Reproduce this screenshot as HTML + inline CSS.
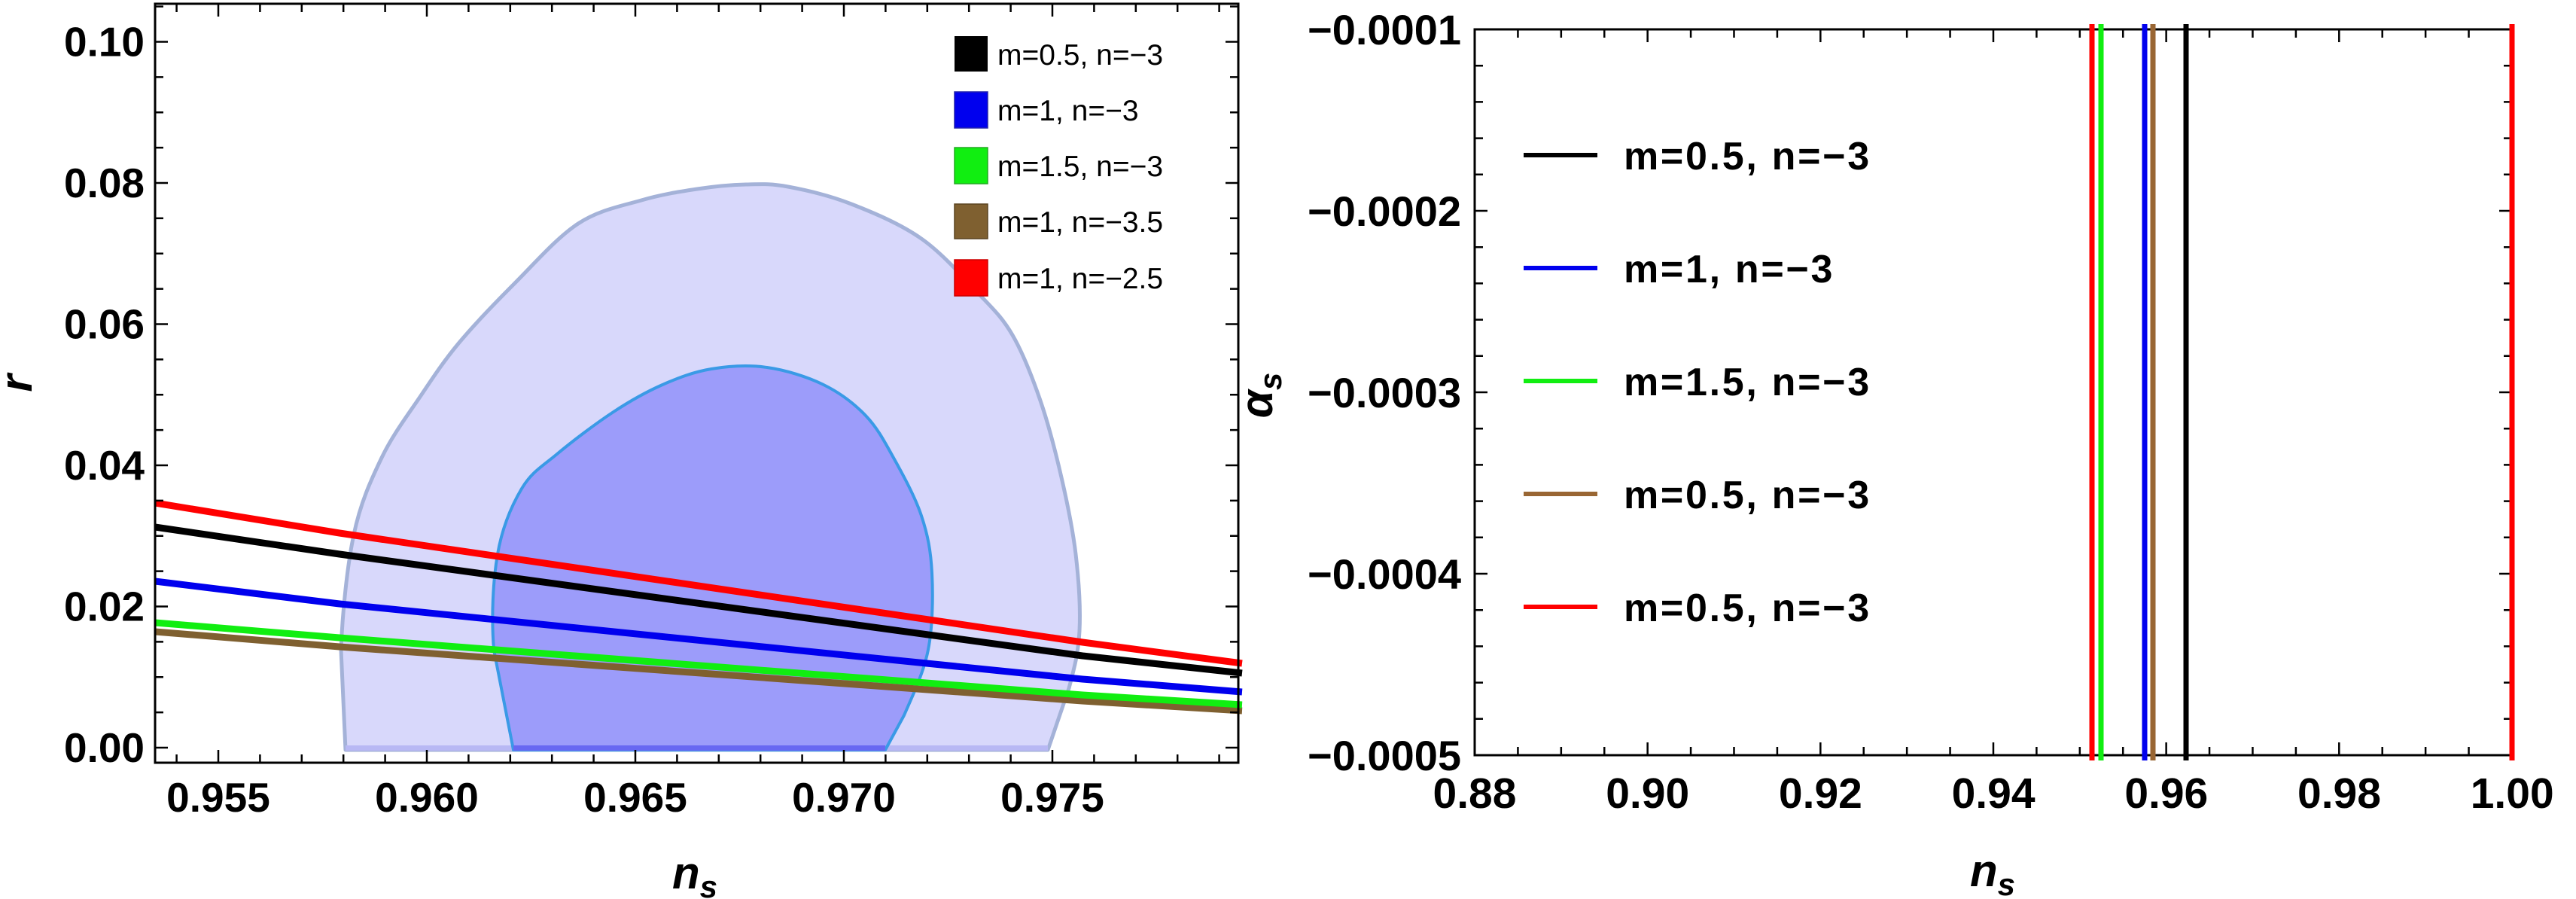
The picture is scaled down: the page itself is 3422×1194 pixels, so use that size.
<!DOCTYPE html>
<html><head><meta charset="utf-8"><style>
html,body{margin:0;padding:0;background:#fff}
svg{display:block}
text{font-family:"Liberation Sans",Arial,sans-serif}
</style></head><body>
<svg id="s" width="3422" height="1194" viewBox="0 0 3422 1194" xmlns="http://www.w3.org/2000/svg">
<rect width="3422" height="1194" fill="#fff"/>
<path id="outer" d="M459,996 L453,863 L470,710 L507,608 L558,527 L610,455 L684,376 L768,297 L852,266 L926,251 L991,245 L1047,248 L1131,271 L1224,317 L1299,389 L1345,445 L1382,532 L1410,634 L1429,736 L1434,838 L1420,914 L1392,996 Z" fill="#d8d8fb" stroke="#a4b2d8" stroke-width="5" stroke-linejoin="round"/>
<rect x="459" y="990" width="933" height="7" fill="#b8b8f4"/>
<path id="inner" d="M682,996 L656,863 L661,736 L693,649 L740,603 L815,547 L880,511 L945,490 L1019,488 L1094,511 L1150,552 L1187,608 L1224,685 L1238,761 L1233,863 L1201,950 L1176,996 Z" fill="#9c9cfa" stroke="#3a9ae6" stroke-width="4" stroke-linejoin="round"/>
<rect x="682" y="990" width="494" height="7" fill="#6868f2"/>
<g fill="none" stroke-width="9" stroke-linejoin="round">
<polyline stroke="#7f6030" points="206,839 451,859 1438,931 1650,944"/>
<polyline stroke="#11ee11" points="206,827 451,847 1438,923 1650,936"/>
<polyline stroke="#0000ee" points="206,772 451,802 1438,902 1650,919"/>
<polyline stroke="#000" points="206,700 451,736 1438,871 1650,894"/>
<polyline stroke="#f00" points="206,668 451,708 1438,853 1650,881"/>
</g>
<g id="ticks" stroke="#000" stroke-width="2.5" fill="none"></g>
<rect x="206" y="5" width="1439" height="1008" fill="none" stroke="#000" stroke-width="3"/>
<rect x="1959" y="39" width="1378" height="964" fill="none" stroke="#000" stroke-width="3"/>
<g stroke-width="7">
<line x1="2779" y1="32" x2="2779" y2="1010" stroke="#f00"/>
<line x1="2791" y1="32" x2="2791" y2="1010" stroke="#11ee11"/>
<line x1="2849" y1="32" x2="2849" y2="1010" stroke="#0000ee"/>
<line x1="2860" y1="32" x2="2860" y2="1010" stroke="#996633"/>
<line x1="2904" y1="32" x2="2904" y2="1010" stroke="#000"/>
<line x1="3337" y1="32" x2="3337" y2="1010" stroke="#f00"/>
</g>
<g font-size="39">
<rect x="1268" y="48" width="44" height="47" fill="#000"/>
<rect x="1268" y="122" width="44" height="48" fill="#0000ee" stroke="#2222aa" stroke-width="1.5"/>
<rect x="1268" y="196" width="44" height="48" fill="#11ee11" stroke="#22aa22" stroke-width="1.5"/>
<rect x="1268" y="271" width="44" height="46" fill="#7f6030" stroke="#5a4420" stroke-width="1.5"/>
<rect x="1268" y="345" width="44" height="48" fill="#f00" stroke="#c00" stroke-width="1.5"/>
<text x="1325" y="86">m=0.5, n=−3</text>
<text x="1325" y="160">m=1, n=−3</text>
<text x="1325" y="234">m=1.5, n=−3</text>
<text x="1325" y="308">m=1, n=−3.5</text>
<text x="1325" y="383">m=1, n=−2.5</text>
</g>
<g stroke-width="6">
<line x1="2024" y1="206" x2="2122" y2="206" stroke="#000"/>
<line x1="2024" y1="356" x2="2122" y2="356" stroke="#0000ee"/>
<line x1="2024" y1="506" x2="2122" y2="506" stroke="#11ee11"/>
<line x1="2024" y1="656" x2="2122" y2="656" stroke="#996633"/>
<line x1="2024" y1="806" x2="2122" y2="806" stroke="#f00"/>
</g>
<g font-size="52" font-weight="bold" letter-spacing="2.7">
<text x="2157" y="225">m=0.5, n=−3</text>
<text x="2157" y="375">m=1, n=−3</text>
<text x="2157" y="525">m=1.5, n=−3</text>
<text x="2157" y="675">m=0.5, n=−3</text>
<text x="2157" y="825">m=0.5, n=−3</text>
</g>
<g id="labels" font-weight="bold"></g>
<text x="923" y="1180" font-size="60" font-weight="bold" font-style="italic" text-anchor="middle">n<tspan font-size="42" dy="12">s</tspan></text>
<text x="2647" y="1177" font-size="60" font-weight="bold" font-style="italic" text-anchor="middle">n<tspan font-size="42" dy="12">s</tspan></text>
<text transform="translate(42,509) rotate(-90)" font-size="60" font-weight="bold" font-style="italic" text-anchor="middle">r</text>
<text transform="translate(1690,525) rotate(-90)" font-size="60" font-weight="bold" font-style="italic" text-anchor="middle">α<tspan font-size="42" dy="12">s</tspan></text>
</svg>
<script>
var NS="http://www.w3.org/2000/svg";
function smooth(id){
  var el=document.getElementById(id);
  var pts=el.getAttribute("d").replace(/[MLZ]/g," ").trim().split(/\s+/).map(function(s){var a=s.split(",");return [+a[0],+a[1]];});
  var n=pts.length, d="M"+pts[0][0]+","+pts[0][1];
  for(var i=0;i<n-1;i++){
    var p0=pts[Math.max(i-1,0)],p1=pts[i],p2=pts[i+1],p3=pts[Math.min(i+2,n-1)];
    if(i==n-2||i==0){d+="L"+p2[0]+","+p2[1];continue;}
    var c1=[p1[0]+(p2[0]-p0[0])/6,p1[1]+(p2[1]-p0[1])/6];
    var c2=[p2[0]-(p3[0]-p1[0])/6,p2[1]-(p3[1]-p1[1])/6];
    d+="C"+c1[0]+","+c1[1]+" "+c2[0]+","+c2[1]+" "+p2[0]+","+p2[1];
  }
  el.setAttribute("d",d+"Z");
}
smooth("outer");smooth("inner");
var d="";
for(var i=954;i<=979;i++){var x=290+(i/1000-0.955)*55400;var L=(i%5==0)?17:11;d+="M"+x+",1013v-"+L+"M"+x+",5v"+L;}
for(var j=0;j<=21;j++){var v=j*0.005;var y=993-v*9375;var L=(j%4==0)?17:11;d+="M206,"+y+"h"+L+"M1645,"+y+"h-"+L;}
for(var k=0;k<=24;k++){var x=1959+k*0.005*11483;var L=(k%4==0)?17:11;d+="M"+x+",1003v-"+L+"M"+x+",39v"+L;}
for(var m=0;m<=20;m++){var y=1003-m*48.2;var L=(m%5==0)?17:11;d+="M1959,"+y+"h"+L+"M3337,"+y+"h-"+L;}
var p=document.createElementNS(NS,"path");p.setAttribute("d",d);document.getElementById("ticks").appendChild(p);
var g=document.getElementById("labels");
function t(x,y,s,a,fs){var e=document.createElementNS(NS,"text");e.setAttribute("x",x);e.setAttribute("y",y);e.setAttribute("text-anchor",a);e.setAttribute("font-size",fs);e.textContent=s;g.appendChild(e);}
["0.00","0.02","0.04","0.06","0.08","0.10"].forEach(function(s,i){t(192,993-i*187.5+19,s,"end",55);});
["0.955","0.960","0.965","0.970","0.975"].forEach(function(s,i){t(290+i*277,1078,s,"middle",55);});
["-0.0005","-0.0004","-0.0003","-0.0002","-0.0001"].forEach(function(s,i){t(1941,1003-i*241+20,s.replace("-","−"),"end",56);});
["0.88","0.90","0.92","0.94","0.96","0.98","1.00"].forEach(function(s,i){t(1959+i*229.7,1073,s,"middle",57);});
</script>
</body></html>
